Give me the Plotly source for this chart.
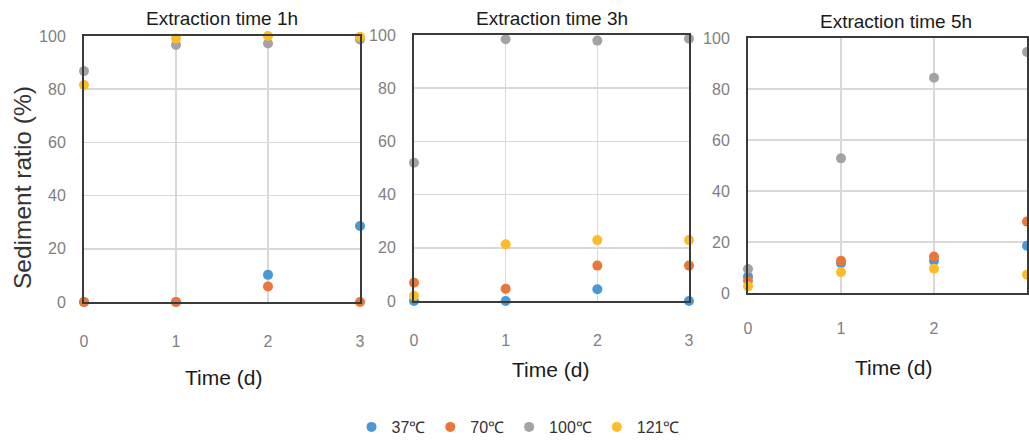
import plotly.graph_objects as go

W, H = 1029, 441

days = [0, 1, 2, 3]
series_names = ["37℃", "70℃", "100℃", "121℃"]
colors = ["#4a98d6", "#e8773a", "#a3a3a3", "#fbbd2a"]

# Extraction time 1h
p1_37 = [0, 0, 10.2, 28.6]
p1_70 = [0, 0, 5.8, 0]
p1_100 = [86.8, 96.6, 97.2, 98.7]
p1_121 = [81.6, 99.1, 100, 99.7]

# Extraction time 3h
p2_37 = [0, 0, 4.4, 0]
p2_70 = [6.9, 4.6, 13.3, 13.3]
p2_100 = [52, 98.4, 97.9, 98.6]
p2_121 = [2.0, 21.3, 22.9, 22.9]

# Extraction time 5h
p3_37 = [6.5, 11.7, 12.6, 18.5]
p3_70 = [4.8, 12.6, 14.3, 28.0]
p3_100 = [9.4, 52.8, 84.4, 94.5]
p3_121 = [2.6, 8.2, 9.5, 7.2]

panel_titles = ["Extraction time 1h", "Extraction time 3h", "Extraction time 5h"]
x_title = "Time (d)"
y_title = "Sediment ratio (%)"
y_ticks = [0, 20, 40, 60, 80, 100]

panels = [
    [p1_37, p1_70, p1_100, p1_121],
    [p2_37, p2_70, p2_100, p2_121],
    [p3_37, p3_70, p3_100, p3_121],
]

# pixel geometry: (left, right, top, bottom, title_y, xtitle_y, xtitle_x)
geom = [
    (84, 360, 36, 302, 18, 377, 223),
    (414, 689, 35, 301, 18, 369, 550),
    (748, 1027, 38, 293, 22, 367, 893),
]


def px(x):
    return x / W


def py(y):
    return (H - y) / H


font = "Liberation Sans, Arial"

fig = go.Figure()
for i, vals in enumerate(panels):
    xa = "x" if i == 0 else f"x{i+1}"
    ya = "y" if i == 0 else f"y{i+1}"
    for j, v in enumerate(vals):
        fig.add_trace(go.Scatter(
            x=days, y=v, mode="markers", name=series_names[j],
            marker=dict(color=colors[j], size=10, line=dict(width=0)),
            xaxis=xa, yaxis=ya, showlegend=(i == 0), cliponaxis=False,
        ))

layout = dict(
    width=W, height=H, margin=dict(l=0, r=0, t=0, b=0, autoexpand=False),
    paper_bgcolor="white", plot_bgcolor="white",
    showlegend=True,
    legend=dict(orientation="h", x=px(518), xanchor="center", y=py(427), yanchor="middle",
                font=dict(family=font, size=16, color="#333333"),
                itemwidth=30, traceorder="normal"),
)
annotations = []
for i, (l, r, t, b, ty, xty, xtx) in enumerate(geom):
    sfx = "" if i == 0 else str(i + 1)
    layout["xaxis" + sfx] = dict(
        domain=[px(l), px(r)], range=[0, 3], anchor="y" + sfx, automargin=False,
        tickvals=days, ticks="", ticklabelstandoff=24 if i < 2 else 20,
        tickfont=dict(family=font, size=16, color="#7f7f7f"),
        showgrid=True, gridcolor="#d9d9d9", gridwidth=1.5,
        showline=True, linecolor="#3a3a3a", linewidth=2, mirror=True,
        zeroline=False, fixedrange=True,
    )
    layout["yaxis" + sfx] = dict(
        domain=[py(b), py(t)], range=[0, 100], anchor="x" + sfx, automargin=False,
        tickvals=y_ticks, ticks="", ticklabelstandoff=13,
        tickfont=dict(family=font, size=16, color="#7f7f7f"),
        showgrid=True, gridcolor="#d9d9d9", gridwidth=1.5,
        showline=True, linecolor="#3a3a3a", linewidth=2, mirror=True,
        zeroline=False, fixedrange=True,
    )
    cx = (l + r) / 2
    annotations.append(dict(
        text=panel_titles[i], x=px(cx + (0 if i < 2 else 8)), y=py(ty),
        xref="paper", yref="paper", xanchor="center", yanchor="middle", showarrow=False,
        font=dict(family=font, size=19, color="#1a1a1a"),
    ))
    annotations.append(dict(
        text=x_title, x=px(xtx), y=py(xty),
        xref="paper", yref="paper", xanchor="center", yanchor="middle", showarrow=False,
        font=dict(family=font, size=21, color="#1a1a1a"),
    ))

annotations.append(dict(
    text=y_title, x=px(22), y=py(188), textangle=-90,
    xref="paper", yref="paper", xanchor="center", yanchor="middle", showarrow=False,
    font=dict(family=font, size=24.5, color="#333333"),
))
layout["annotations"] = annotations
fig.update_layout(**layout)
fig.write_html(
    "out.html",
    config={"displayModeBar": False, "staticPlot": True},
    post_script="document.body.style.margin='0px';document.body.style.overflow='hidden';",
)
